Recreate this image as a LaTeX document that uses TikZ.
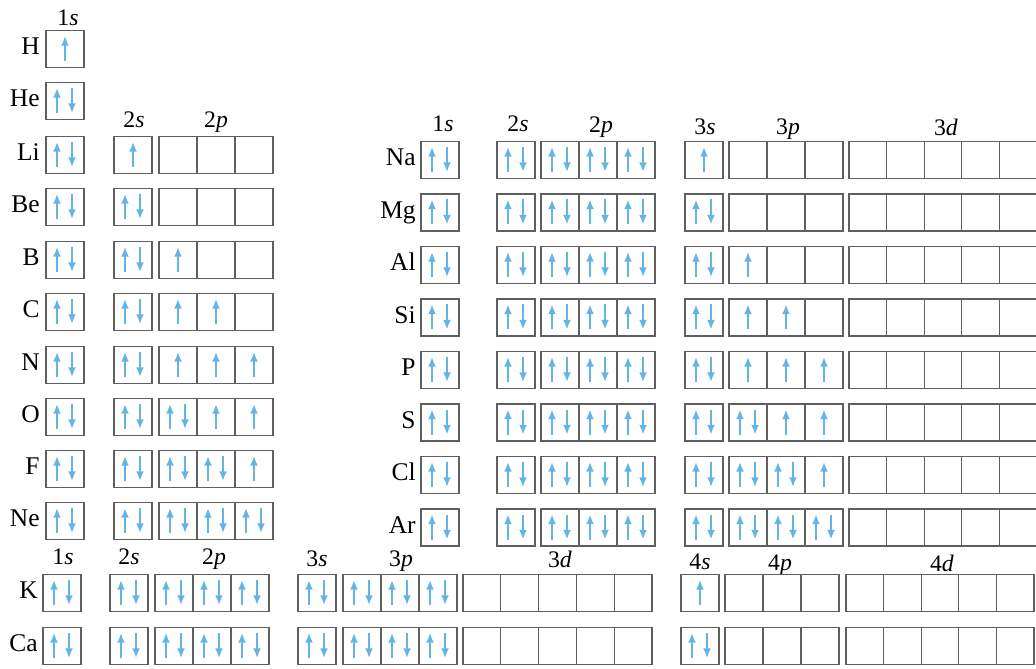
\documentclass[tikz,border=0pt]{standalone}
\usepackage{fontspec}
\setmainfont{Liberation Serif}
\usetikzlibrary{calc,arrows.meta}

\definecolor{spinblue}{RGB}{100,180,230}
\definecolor{boxgray}{RGB}{95,95,95}

% one group of orbital cells: name, left x, centre y, cell width, fillings (0/1/2)
\newcommand{\orbs}[5]{%
  \foreach \occ [count=\k] in {#5} {%
    \node[cell,minimum width={#4*0.02cm}] (#1\k) at ({#2+(\k-0.5)*#4},#3) {};
    \ifnum\occ=1
      \draw[spin] ($(#1\k)+(0,12)$) -- ($(#1\k)+(0,-13)$);
    \fi
    \ifnum\occ=2
      \draw[spin] ($(#1\k)+(-8,12)$) -- ($(#1\k)+(-8,-13)$);
      \draw[spin] ($(#1\k)+(7,-13)$) -- ($(#1\k)+(7,12)$);
    \fi
  }}

\begin{document}
\begin{tikzpicture}[
  x=0.02cm,y=-0.02cm,
  cell/.style={draw=boxgray,line width=0.65pt,minimum height=0.74cm,inner sep=0pt,outer sep=0pt},
  spin/.style={spinblue,line width=1.2pt,-{Latex[length=5.5pt,width=4.6pt]}},
  elem/.style={anchor=east,inner sep=0pt,text height=1.48ex,text depth=0pt,font=\fontsize{14.5}{16}\selectfont},
  sub/.style={inner sep=0pt,text height=1.5ex,text depth=0pt,font=\fontsize{13.5}{15}\selectfont}
]
\useasboundingbox (0,0) rectangle (1036,669);

% H to Ne
\node[sub] (a1s) at (68,19) {1\textit{s}};
\node[sub] (a2s) at (134,121) {2\textit{s}};
\node[sub] (a2p) at (216,121) {2\textit{p}};
\node[elem] (H) at (40,49) {H};
\orbs{H1s}{46}{49}{38}{1}
\node[elem] (He) at (40,101) {He};
\orbs{He1s}{46}{101}{38}{2}
\foreach \el/\y/\ts/\pa/\pb/\pc in {Li/155/1/0/0/0,Be/207/2/0/0/0,B/260/2/1/0/0,C/312/2/1/1/0,
    N/365/2/1/1/1,O/417/2/2/1/1,F/469/2/2/2/1,Ne/521/2/2/2/2}{
  \node[elem] (\el) at (40,\y) {\el};
  \orbs{\el1s}{46}{\y}{38}{2}
  \orbs{\el2s}{114}{\y}{38}{\ts}
  \orbs{\el2p}{159}{\y}{38}{\pa,\pb,\pc}
}

% Na to Ar
\node[sub] (b1s) at (443,125) {1\textit{s}};
\node[sub] (b2s) at (518,125) {2\textit{s}};
\node[sub] (b2p) at (601,126) {2\textit{p}};
\node[sub] (b3s) at (705,128) {3\textit{s}};
\node[sub] (b3p) at (788,128) {3\textit{p}};
\node[sub] (b3d) at (946,129) {3\textit{d}};
\foreach \el/\y/\ts/\pa/\pb/\pc in {Na/160/1/0/0/0,Mg/212.5/2/0/0/0,Al/265/2/1/0/0,Si/317.5/2/1/1/0,
    P/370/2/1/1/1,S/422.5/2/2/1/1,Cl/475/2/2/2/1,Ar/527.5/2/2/2/2}{
  \node[elem] (\el) at (416,\y) {\el};
  \orbs{\el1s}{421}{\y}{38}{2}
  \orbs{\el2s}{497}{\y}{38}{2}
  \orbs{\el2p}{541}{\y}{38}{2,2,2}
  \orbs{\el3s}{685}{\y}{38}{\ts}
  \orbs{\el3p}{729}{\y}{38}{\pa,\pb,\pc}
  \orbs{\el3d}{849}{\y}{37.6}{0,0,0,0,0}
}

% K and Ca
\node[sub] (c1s) at (63,558) {1\textit{s}};
\node[sub] (c2s) at (129,558) {2\textit{s}};
\node[sub] (c2p) at (214,558) {2\textit{p}};
\node[sub] (c3s) at (317,560) {3\textit{s}};
\node[sub] (c3p) at (401,560) {3\textit{p}};
\node[sub] (c3d) at (560,561) {3\textit{d}};
\node[sub] (c4s) at (700,563) {4\textit{s}};
\node[sub] (c4p) at (780,564) {4\textit{p}};
\node[sub] (c4d) at (942,565) {4\textit{d}};
\foreach \el/\y/\fs in {K/593/1,Ca/646/2}{
  \node[elem] (\el) at (38,\y) {\el};
  \orbs{\el1s}{43}{\y}{38}{2}
  \orbs{\el2s}{110}{\y}{38}{2}
  \orbs{\el2p}{155}{\y}{38}{2,2,2}
  \orbs{\el3s}{298}{\y}{38}{2}
  \orbs{\el3p}{343}{\y}{38}{2,2,2}
  \orbs{\el3d}{463}{\y}{37.8}{0,0,0,0,0}
  \orbs{\el4s}{681}{\y}{38}{\fs}
  \orbs{\el4p}{725}{\y}{38}{0,0,0}
  \orbs{\el4d}{846}{\y}{37.6}{0,0,0,0,0}
}
\end{tikzpicture}
\end{document}
